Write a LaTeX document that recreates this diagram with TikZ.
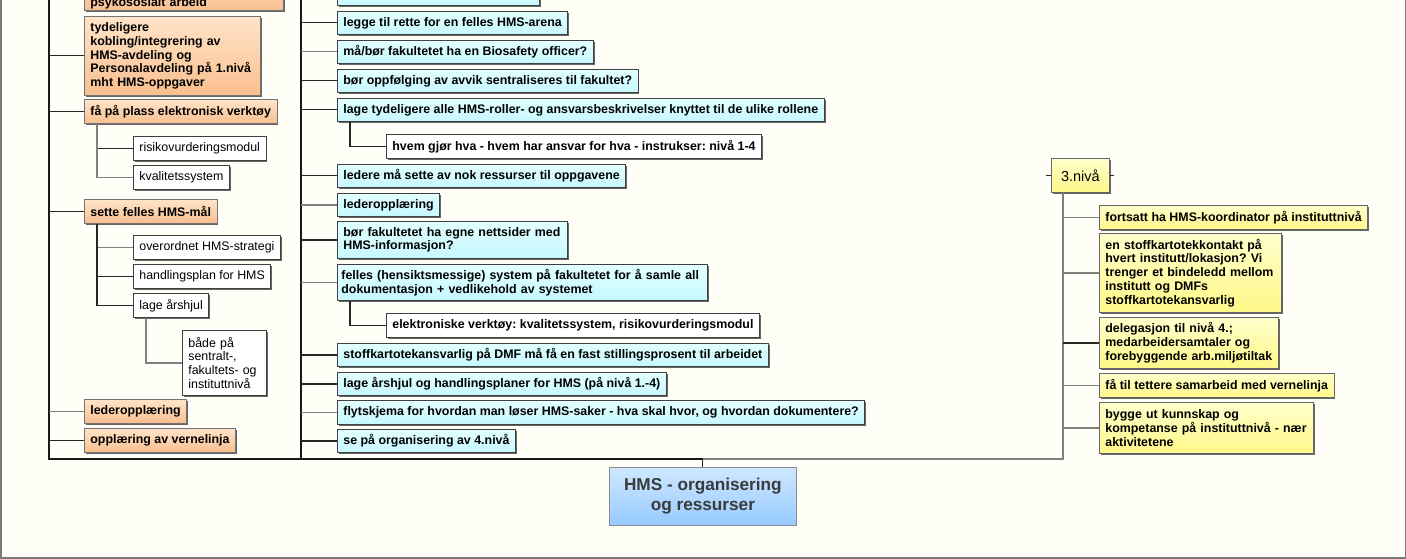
\documentclass[tikz,border=0pt]{standalone}
\usepackage{fontspec}
\setmainfont{Liberation Sans}
\usetikzlibrary{shadows,calc}
\frenchspacing
\definecolor{bg}{HTML}{FFFFF7}
\definecolor{otop}{HTML}{FFE4C8}
\definecolor{obot}{HTML}{F9BF8F}
\definecolor{ctop}{HTML}{E2FFFF}
\definecolor{cbot}{HTML}{C6F8FF}
\definecolor{ytop}{HTML}{FFFFCC}
\definecolor{ybot}{HTML}{FFF888}
\definecolor{rtop}{HTML}{CFE8FF}
\definecolor{rbot}{HTML}{96CAFF}
\definecolor{lg}{HTML}{7A7A7A}
\definecolor{roottext}{HTML}{3A3A3A}
\newcommand\boxbold{\bfseries\fontsize{12.4}{13.7}\selectfont}
\newcommand\boxreg{\fontsize{12.4}{13.7}\selectfont}
\begin{document}
\frenchspacing
\begin{tikzpicture}[x=1pt,y=-1pt,
  base/.style={draw, rectangle, anchor=north west, inner xsep=6pt, inner ysep=2pt,
    align=left, line width=0.8pt, minimum height=24pt,
    drop shadow={shadow xshift=1.3pt, shadow yshift=-1.3pt, fill=black!60, opacity=1}},
  obox/.style={base, draw=black!55, top color=otop, bottom color=obot, font=\boxbold},
  cbox/.style={base, draw=black!75, top color=ctop, bottom color=cbot, font=\boxbold},
  ybox/.style={base, draw=black!60, top color=ytop, bottom color=ybot, font=\boxbold},
  wbox/.style={base, draw=black!75, fill=white, font=\boxreg},
  wboxb/.style={base, draw=black!75, fill=white, font=\boxbold},
  rootbox/.style={draw=black!45, rectangle, anchor=north west, line width=0.8pt,
    top color=rtop, bottom color=rbot, align=center, text=roottext,
    minimum width=187pt, minimum height=58pt,
    font=\bfseries\fontsize{17.2}{20}\selectfont},
  cd/.style={draw=black!85, line width=1.2pt},
  cg/.style={draw=black!50, line width=1.2pt},
  trunk/.style={draw=black!90, line width=1.8pt},
  trunkg/.style={draw=black!50, line width=1.8pt}]
\path[use as bounding box] (0,0) rectangle (1406,559);
\fill[bg] (0,0) rectangle (1406,559);
\begin{scope}
\clip (0,0) rectangle (1406,559);
% ---------- left column ----------
\node[obox, anchor=south west, text width=187pt] (o0) at (84,11) {\vphantom{Ag}\\\vphantom{Ag}\\psykososialt arbeid};
\node[obox, text width=164pt, minimum height=79pt] (o1) at (84,16) {tydeligere\\kobling/integrering av\\HMS-avdeling og\\Personalavdeling på 1.nivå\\mht HMS-oppgaver};
\node[obox] (o2) at (84,99) {få på plass elektronisk verktøy};
\node[wbox] (w1) at (133,136) {risikovurderingsmodul};
\node[wbox] (w2) at (133,165) {kvalitetssystem};
\node[obox] (o3) at (84,199) {sette felles HMS-mål};
\node[wbox] (w3) at (133,235) {overordnet HMS-strategi};
\node[wbox] (w4) at (133,264) {handlingsplan for HMS};
\node[wbox] (w5) at (133,293) {lage årshjul};
\node[wbox, text width=72pt, minimum height=65pt] (w6) at (182,330) {både på\\sentralt-,\\fakultets- og\\instituttnivå};
\node[obox] (o4) at (84,399) {lederopplæring};
\node[obox] (o5) at (84,428) {opplæring av vernelinja};
% ---------- middle column ----------
\node[cbox, anchor=south west, text width=190pt, minimum height=30pt] (c0) at (337,6) {};
\node[cbox, minimum height=23pt] (c1) at (337,11) {legge til rette for en felles HMS-arena};
\node[cbox, minimum height=23pt] (c2) at (337,40) {må/bør fakultetet ha en Biosafety officer?};
\node[cbox, minimum height=23pt] (c3) at (337,69) {bør oppfølging av avvik sentraliseres til fakultet?};
\node[cbox, minimum height=23pt] (c4) at (337,98) {lage tydeligere alle HMS-roller- og ansvarsbeskrivelser knyttet til de ulike rollene};
\node[wboxb] (w7) at (386,134) {hvem gjør hva - hvem har ansvar for hva - instrukser: nivå 1-4};
\node[cbox, minimum height=23pt] (c5) at (337,164) {ledere må sette av nok ressurser til oppgavene};
\node[cbox, minimum height=23pt] (c6) at (337,193) {lederopplæring};
\node[cbox, text width=218pt, minimum height=37pt] (c7) at (337,221) {bør fakultetet ha egne nettsider med\\HMS-informasjon?};
\node[cbox, text width=362pt, inner xsep=4pt, minimum height=36pt] (c8) at (337,264) {felles (hensiktsmessige) system på fakultetet for å samle all\\dokumentasjon + vedlikehold av systemet};
\node[wboxb] (w8) at (386,313) {elektroniske verktøy: kvalitetssystem, risikovurderingsmodul};
\node[cbox, minimum height=23pt] (c9) at (337,343) {stoffkartotekansvarlig på DMF må få en fast stillingsprosent til arbeidet};
\node[cbox, minimum height=23pt] (c10) at (337,372) {lage årshjul og handlingsplaner for HMS (på nivå 1.-4)};
\node[cbox] (c11) at (337,400) {flytskjema for hvordan man løser HMS-saker - hva skal hvor, og hvordan dokumentere?};
\node[cbox, minimum height=23pt] (c12) at (337,429) {se på organisering av 4.nivå};
% ---------- right column ----------
\node[ybox, font=\fontsize{14.5}{16}\selectfont, align=center, minimum width=58pt, minimum height=34pt] (y0) at (1051,158) {3.nivå};
\node[ybox] (y1) at (1099,205) {fortsatt ha HMS-koordinator på instituttnivå};
\node[ybox, text width=170pt, minimum height=79pt] (y2) at (1099,233) {en stoffkartotekkontakt på\\hvert institutt/lokasjon? Vi\\trenger et bindeledd mellom\\institutt og DMFs\\stoffkartotekansvarlig};
\node[ybox, text width=167pt, minimum height=51pt] (y3) at (1099,317) {delegasjon til nivå 4.;\\medarbeidersamtaler og\\forebyggende arb.miljøtiltak};
\node[ybox] (y4) at (1099,373) {få til tettere samarbeid med vernelinja};
\node[ybox, text width=202pt, minimum height=51pt] (y5) at (1099,402) {bygge ut kunnskap og\\kompetanse på instituttnivå - nær\\aktivitetene};
% ---------- root ----------
\node[rootbox] (root) at (609,467) {HMS - organisering\\og ressurser};
% ---------- trunks ----------
\coordinate (Lt) at (49,-10);
\coordinate (Lb) at (49,459);
\coordinate (Mt) at (301,-10);
\coordinate (Mb) at (301,459);
\coordinate (Rb) at (1063,459);
\coordinate (ysl) at (1046,175);
\coordinate (ysr) at (1114,175);
\draw[trunk] (Lt) -- (Lb) -- (root.north |- Lb);
\draw[trunk] (Mt) -- (Mb);
\draw[trunkg] (root.north |- Lb) -- (Rb) -- ($(y0.south west)+(12,0)$);
\draw[cd, line width=1pt] (root.north) -- (root.north |- Lb);
\draw[cd, line width=1pt] (y0.west) -- (y0.west -| ysl);
\draw[cd, line width=1pt] (y0.east) -- (y0.east -| ysr);
% ---------- left connectors ----------
\draw[cd] (o0.west -| Lt) -- (o0.west);
\draw[cd] (o1.west -| Lt) -- (o1.west);
\draw[cd] (o2.west -| Lt) -- (o2.west);
\draw[cd] ($(o2.south west)+(13,0)$) |- (w1.west);
\draw[cg] ($(o2.south west)+(13,0)$) |- (w2.west);
\draw[cd] (o3.west -| Lt) -- (o3.west);
\draw[cg] ($(o3.south west)+(13,0)$) |- (w3.west);
\draw[cd] ($(o3.south west)+(13,0)$) |- (w4.west);
\draw[cd] ($(o3.south west)+(13,0)$) |- (w5.west);
\draw[cg] ($(w5.south west)+(13,0)$) |- (w6.west);
\draw[cg] (o4.west -| Lt) -- (o4.west);
\draw[cd] (o5.west -| Lt) -- (o5.west);
% ---------- middle connectors ----------
\draw[cd] (c0.west -| Mt) -- (c0.west);
\draw[cd] (c1.west -| Mt) -- (c1.west);
\draw[cg] (c2.west -| Mt) -- (c2.west);
\draw[cd] (c3.west -| Mt) -- (c3.west);
\draw[cd] (c4.west -| Mt) -- (c4.west);
\draw[cd] ($(c4.south west)+(13,0)$) |- (w7.west);
\draw[cd] (c5.west -| Mt) -- (c5.west);
\draw[cg] (c6.west -| Mt) -- (c6.west);
\draw[cd] (c7.west -| Mt) -- (c7.west);
\draw[cg] (c8.west -| Mt) -- (c8.west);
\draw[cd] ($(c8.south west)+(13,0)$) |- (w8.west);
\draw[cd] (c9.west -| Mt) -- (c9.west);
\draw[cd] (c10.west -| Mt) -- (c10.west);
\draw[cg] (c11.west -| Mt) -- (c11.west);
\draw[cd] (c12.west -| Mt) -- (c12.west);
% ---------- right connectors ----------
\draw[cg] (y1.west -| Rb) -- (y1.west);
\draw[cg] (y2.west -| Rb) -- (y2.west);
\draw[cd] (y3.west -| Rb) -- (y3.west);
\draw[cg] (y4.west -| Rb) -- (y4.west);
\draw[cg] (y5.west -| Rb) -- (y5.west);
\end{scope}
\draw[lg, line width=1.5pt] (0.75,0) -- (0.75,557.75) -- (1405.25,557.75) -- (1405.25,0);
\end{tikzpicture}
\end{document}
